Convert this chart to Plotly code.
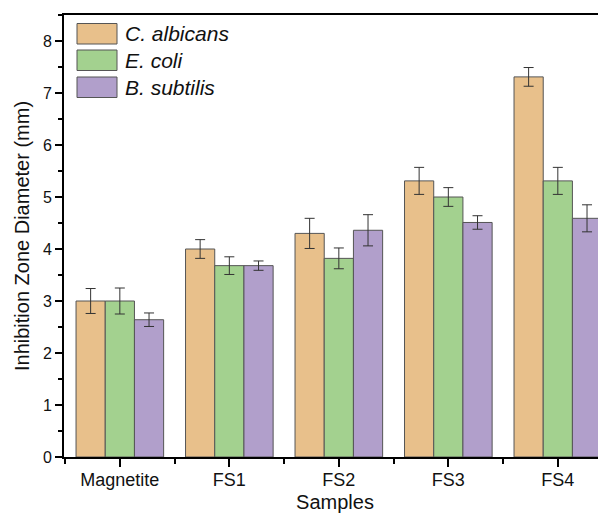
import plotly.graph_objects as go

samples = ["Magnetite", "FS1", "FS2", "FS3", "FS4"]
series_names = ["C. albicans", "E. coli", "B. subtilis"]
c_albicans = [3.0, 4.0, 4.3, 5.31, 7.31]
c_albicans_err = [0.24, 0.18, 0.29, 0.26, 0.18]
e_coli = [3.0, 3.68, 3.82, 5.0, 5.31]
e_coli_err = [0.25, 0.17, 0.2, 0.18, 0.26]
b_subtilis = [2.64, 3.68, 4.36, 4.51, 4.59]
b_subtilis_err = [0.13, 0.09, 0.3, 0.13, 0.26]
y_ticks = [0, 1, 2, 3, 4, 5, 6, 7, 8]

colors = ["#E8C08B", "#A3D18F", "#B19FCB"]
values = [c_albicans, e_coli, b_subtilis]
errors = [c_albicans_err, e_coli_err, b_subtilis_err]

xpos = list(range(len(samples)))

fig = go.Figure()
for name, vals, errs, col in zip(series_names, values, errors, colors):
    fig.add_trace(go.Bar(
        x=xpos, y=vals, name=name,
        marker=dict(color=col, line=dict(color="#555555", width=1)),
        error_y=dict(type="data", array=errs, visible=True,
                     color="#333333", thickness=1, width=5),
        showlegend=False,
    ))

# the page body has an 8px default margin, so the figure starts at (8, 8)
body_off = 8
page_w, page_h = 606, 513
plot_top = 15
plot_bottom = 457
plot_left = 64
plot_right = 606

def ypaper(py):
    return (plot_bottom - py) / (plot_bottom - plot_top)

def xpaper(px):
    return (px - plot_left) / (plot_right - plot_left)

legend_rows = [(23.5, 44), (50, 70.5), (77, 97.5)]
for (y0, y1), name, col in zip(legend_rows, series_names, colors):
    fig.add_shape(type="rect", xref="paper", yref="paper",
                  x0=xpaper(77), x1=xpaper(117), y0=ypaper(y1), y1=ypaper(y0),
                  fillcolor=col, line=dict(color="#555555", width=1))
    fig.add_annotation(xref="paper", yref="paper", x=xpaper(123), y=ypaper((y0 + y1) / 2),
                       text="<i>" + name + "</i>", showarrow=False,
                       xanchor="left", yanchor="middle",
                       font=dict(family="Arial, Liberation Sans", size=21, color="#111111"))

fig_w = page_w - body_off
fig_h = page_h - body_off
fig.update_layout(
    width=fig_w, height=fig_h,
    margin=dict(l=plot_left - body_off, r=page_w - plot_right,
                t=plot_top - body_off, b=page_h - plot_bottom, autoexpand=False),
    plot_bgcolor="white", paper_bgcolor="white",
    barmode="group", bargap=0.2, bargroupgap=0,
    font=dict(family="Arial, Liberation Sans", color="#111111"),
)
fig.update_xaxes(
    range=[-0.51, 4.44], automargin=False,
    tickmode="array", tickvals=xpos, ticktext=samples,
    ticks="outside", ticklen=8, tickwidth=2, tickcolor="black",
    ticklabelstandoff=-3,
    minor=dict(ticks="outside", ticklen=5, tickwidth=2, tickcolor="black",
               tickmode="linear", tick0=0.5, dtick=1),
    showline=True, linewidth=2, linecolor="black", mirror=True,
    showgrid=False, zeroline=False,
    tickfont=dict(size=18),
    title=dict(text="Samples", font=dict(size=20), standoff=10),
)
fig.update_yaxes(
    range=[0, 8.5], automargin=False,
    tickmode="array", tickvals=y_ticks,
    ticks="outside", ticklen=7, tickwidth=2, tickcolor="black",
    minor=dict(ticks="outside", ticklen=4, tickwidth=2, tickcolor="black",
               tickmode="linear", tick0=0.5, dtick=1),
    showline=True, linewidth=2, linecolor="black",
    showgrid=False, zeroline=False,
    tickfont=dict(size=16),
    title=dict(text="Inhibition Zone Diameter (mm)", font=dict(size=20), standoff=8),
)

fig.write_html("out.html")
